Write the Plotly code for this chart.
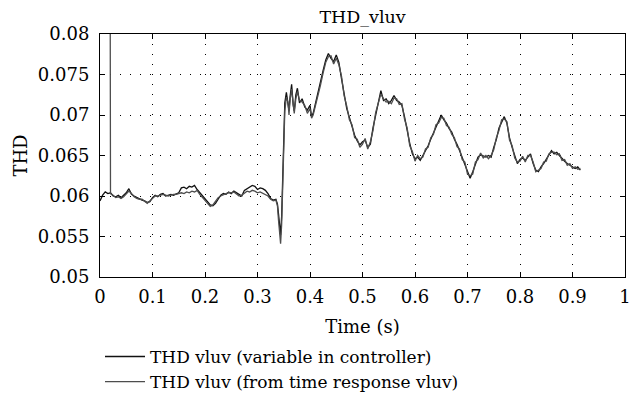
import plotly.graph_objects as go

# ---- data ----
t_ctrl = [0.000, 0.005, 0.010, 0.015, 0.020, 0.025, 0.030, 0.035, 0.040, 0.045,
          0.050, 0.055, 0.060, 0.065, 0.070, 0.075, 0.080, 0.085, 0.090, 0.095,
          0.100, 0.105, 0.110, 0.115, 0.120, 0.125, 0.130, 0.135, 0.140, 0.145,
          0.150, 0.155, 0.160, 0.165, 0.170, 0.175, 0.180, 0.185, 0.190, 0.195,
          0.200, 0.205, 0.210, 0.215, 0.220, 0.225, 0.230, 0.235, 0.240, 0.245,
          0.250, 0.255, 0.260, 0.265, 0.270, 0.275, 0.280, 0.285, 0.290, 0.295,
          0.300, 0.305, 0.310, 0.315, 0.320, 0.325, 0.330, 0.335, 0.338, 0.340,
          0.342, 0.344, 0.346, 0.348, 0.350, 0.352, 0.355, 0.358, 0.360, 0.362,
          0.365, 0.368, 0.370, 0.373, 0.376, 0.380, 0.385, 0.390, 0.395, 0.400,
          0.403, 0.406, 0.410, 0.415, 0.420, 0.425, 0.430, 0.435, 0.440, 0.445,
          0.450, 0.455, 0.460, 0.465, 0.470, 0.475, 0.480, 0.485, 0.490, 0.495,
          0.500, 0.505, 0.510, 0.515, 0.520, 0.525, 0.530, 0.535, 0.540, 0.545,
          0.550, 0.555, 0.560, 0.565, 0.570, 0.575, 0.580, 0.585, 0.590, 0.595,
          0.600, 0.605, 0.610, 0.615, 0.620, 0.625, 0.630, 0.635, 0.640, 0.645,
          0.650, 0.655, 0.660, 0.665, 0.670, 0.675, 0.680, 0.685, 0.690, 0.695,
          0.700, 0.705, 0.710, 0.715, 0.720, 0.725, 0.730, 0.735, 0.740, 0.745,
          0.750, 0.755, 0.760, 0.765, 0.770, 0.775, 0.780, 0.785, 0.790, 0.795,
          0.800, 0.805, 0.810, 0.815, 0.820, 0.825, 0.830, 0.835, 0.840, 0.845,
          0.850, 0.855, 0.860, 0.865, 0.870, 0.875, 0.880, 0.885, 0.890, 0.895,
          0.900, 0.905, 0.910, 0.915]

thd_ctrl = [0.0594, 0.0601, 0.0605, 0.0603, 0.0604, 0.0600, 0.0599, 0.0601, 0.0598, 0.0601,
            0.0604, 0.0609, 0.0602, 0.0600, 0.0598, 0.0597, 0.0595, 0.0594, 0.0592, 0.0593,
            0.0598, 0.0601, 0.0599, 0.0602, 0.0603, 0.0600, 0.0601, 0.0602, 0.0601, 0.0603,
            0.0604, 0.0610, 0.0611, 0.0609, 0.0612, 0.0611, 0.0613, 0.0608, 0.0604, 0.0600,
            0.0596, 0.0592, 0.0589, 0.0588, 0.0591, 0.0596, 0.0601, 0.0603, 0.0602, 0.0605,
            0.0603, 0.0606, 0.0604, 0.0601, 0.0600, 0.0607, 0.0609, 0.0610, 0.0613, 0.0612,
            0.0608, 0.0610, 0.0609, 0.0607, 0.0603, 0.0597, 0.0595, 0.0596, 0.0590, 0.0578,
            0.0560, 0.0552, 0.0575, 0.0625, 0.0680, 0.0715, 0.0728, 0.0712, 0.0705, 0.0722,
            0.0738, 0.0712, 0.0705, 0.0725, 0.0733, 0.0715, 0.0720, 0.0710, 0.0706, 0.0712,
            0.0698, 0.0702, 0.0714, 0.0725, 0.0740, 0.0755, 0.0768, 0.0776, 0.0770, 0.0766,
            0.0774, 0.0765, 0.0745, 0.0728, 0.0708, 0.0697, 0.0686, 0.0675, 0.0668, 0.0663,
            0.0667, 0.0669, 0.0660, 0.0664, 0.0684, 0.0700, 0.0716, 0.0730, 0.0718, 0.0720,
            0.0714, 0.0718, 0.0724, 0.0718, 0.0716, 0.0712, 0.0698, 0.0680, 0.0665, 0.0652,
            0.0646, 0.0648, 0.0644, 0.0650, 0.0656, 0.0662, 0.0670, 0.0678, 0.0686, 0.0692,
            0.0700, 0.0694, 0.0690, 0.0683, 0.0679, 0.0670, 0.0664, 0.0656, 0.0648, 0.0640,
            0.0630, 0.0622, 0.0630, 0.0640, 0.0648, 0.0651, 0.0649, 0.0648, 0.0650, 0.0648,
            0.0660, 0.0670, 0.0684, 0.0692, 0.0698, 0.0690, 0.0672, 0.0660, 0.0650, 0.0640,
            0.0645, 0.0647, 0.0644, 0.0648, 0.0652, 0.0640, 0.0632, 0.0630, 0.0636, 0.0640,
            0.0645, 0.0650, 0.0656, 0.0652, 0.0654, 0.0650, 0.0646, 0.0643, 0.0640, 0.0638,
            0.0636, 0.0634, 0.0636, 0.0632]

t_resp = [0.019, 0.0195] + t_ctrl[4:]

thd_resp = [0.1000, 0.0604,
            0.0603, 0.0601, 0.0598, 0.0599, 0.0597, 0.0599,
            0.0602, 0.0606, 0.0603, 0.0599, 0.0597, 0.0596, 0.0596, 0.0593, 0.0591, 0.0594,
            0.0597, 0.0600, 0.0600, 0.0601, 0.0602, 0.0601, 0.0600, 0.0601, 0.0602, 0.0602,
            0.0603, 0.0604, 0.0603, 0.0605, 0.0604, 0.0606, 0.0605, 0.0607, 0.0602, 0.0598,
            0.0594, 0.0590, 0.0587, 0.0589, 0.0593, 0.0598, 0.0600, 0.0602, 0.0603, 0.0604,
            0.0604, 0.0605, 0.0603, 0.0600, 0.0601, 0.0604, 0.0606, 0.0605, 0.0607, 0.0606,
            0.0604, 0.0605, 0.0603, 0.0602, 0.0600, 0.0596, 0.0594, 0.0595, 0.0588, 0.0570,
            0.0550, 0.0541, 0.0565, 0.0610, 0.0665, 0.0705, 0.0722, 0.0716, 0.0700, 0.0718,
            0.0732, 0.0716, 0.0702, 0.0720, 0.0729, 0.0718, 0.0716, 0.0712, 0.0702, 0.0708,
            0.0696, 0.0700, 0.0710, 0.0722, 0.0737, 0.0752, 0.0765, 0.0772, 0.0773, 0.0763,
            0.0770, 0.0762, 0.0748, 0.0724, 0.0711, 0.0694, 0.0688, 0.0672, 0.0670, 0.0660,
            0.0664, 0.0671, 0.0658, 0.0667, 0.0681, 0.0703, 0.0713, 0.0726, 0.0720, 0.0716,
            0.0717, 0.0714, 0.0721, 0.0720, 0.0713, 0.0714, 0.0695, 0.0684, 0.0662, 0.0655,
            0.0643, 0.0650, 0.0646, 0.0648, 0.0658, 0.0660, 0.0672, 0.0676, 0.0688, 0.0690,
            0.0697, 0.0696, 0.0687, 0.0685, 0.0676, 0.0672, 0.0661, 0.0658, 0.0645, 0.0642,
            0.0627, 0.0625, 0.0627, 0.0642, 0.0645, 0.0653, 0.0647, 0.0650, 0.0646, 0.0650,
            0.0657, 0.0672, 0.0681, 0.0694, 0.0695, 0.0692, 0.0669, 0.0662, 0.0647, 0.0642,
            0.0643, 0.0649, 0.0642, 0.0650, 0.0650, 0.0642, 0.0630, 0.0632, 0.0634, 0.0642,
            0.0643, 0.0652, 0.0654, 0.0654, 0.0651, 0.0652, 0.0644, 0.0645, 0.0638, 0.0640,
            0.0634, 0.0636, 0.0633, 0.0634]

x_ticks = [0, 0.1, 0.2, 0.3, 0.4, 0.5, 0.6, 0.7, 0.8, 0.9, 1]
x_tick_labels = ["0", "0.1", "0.2", "0.3", "0.4", "0.5", "0.6", "0.7", "0.8", "0.9", "1"]
y_ticks = [0.05, 0.055, 0.06, 0.065, 0.07, 0.075, 0.08]
y_tick_labels = ["0.05", "0.055", "0.06", "0.065", "0.07", "0.075", "0.08"]

FONT = "DejaVu Serif"
FS = 18

fig = go.Figure()
fig.add_trace(go.Scatter(x=t_ctrl, y=thd_ctrl, mode="lines",
                         name="THD vluv (variable in controller)",
                         line=dict(color="#111111", width=1.3)))
fig.add_trace(go.Scatter(x=t_resp, y=thd_resp, mode="lines",
                         name="THD vluv (from time response vluv)",
                         line=dict(color="#4d4d4d", width=1.3)))

axis_common = dict(showline=True, linecolor="black", linewidth=1, mirror="ticks",
                   ticks="inside", ticklen=5, tickcolor="black",
                   showgrid=True, gridcolor="black", gridwidth=1,
                   griddash="1px,9px", zeroline=False, automargin=False,
                   ticklabeloverflow="allow")

fig.update_xaxes(range=[0, 1], tickvals=x_ticks, ticktext=x_tick_labels,
                 ticklabelstandoff=3,
                 title=dict(text="Time (s)", font=dict(family=FONT, size=FS, color="black"),
                            standoff=14),
                 **axis_common)
fig.update_yaxes(range=[0.05, 0.08], tickvals=y_ticks, ticktext=y_tick_labels,
                 ticklabelstandoff=6,
                 title=dict(text="THD", font=dict(family=FONT, size=FS, color="black"),
                            standoff=5),
                 **axis_common)
fig.update_xaxes(tickfont=dict(family=FONT, size=FS, color="black"))
fig.update_yaxes(tickfont=dict(family=FONT, size=FS, color="black"))

fig.update_layout(
    template="none",
    width=630, height=402,
    margin=dict(l=100, r=5, t=34, b=125, autoexpand=False),
    paper_bgcolor="white", plot_bgcolor="white",
    font=dict(family=FONT, size=FS, color="black"),
    title=dict(text="THD_vluv", x=0.5755, xanchor="center", y=0.957, yanchor="middle",
               font=dict(family=FONT, size=17.5, color="black")),
    legend=dict(x=0.0, xanchor="left", y=-0.255, yanchor="top",
                bgcolor="rgba(0,0,0,0)", font=dict(family=FONT, size=17, color="black"),
                tracegroupgap=0, itemwidth=40),
    showlegend=True,
)

fig.write_html("out.html")
